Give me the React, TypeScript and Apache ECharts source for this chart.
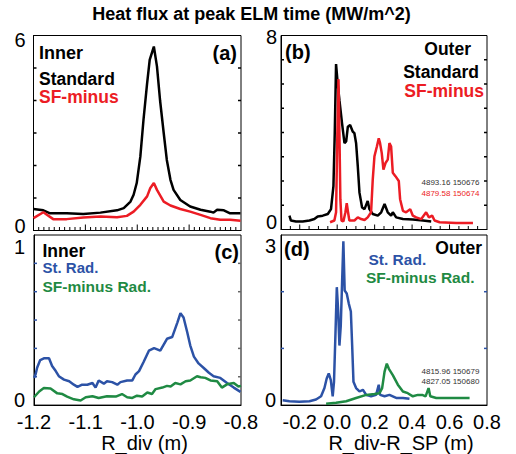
import React, { useEffect, useRef } from "react";
import * as echarts from "echarts";

// ---------- data ----------
const aStdX = [-1.2, -1.181, -1.168, -1.136, -1.104, -1.071, -1.039, -1.026, -1.013, -1.007, -1.001, -0.994, -0.988, -0.981, -0.976, -0.968, -0.962, -0.956, -0.949, -0.943, -0.936, -0.93, -0.917, -0.898, -0.878, -0.859, -0.853, -0.846, -0.833, -0.821, -0.801];
const aStdY = [0.66, 0.62, 0.53, 0.53, 0.51, 0.55, 0.62, 0.69, 0.89, 1.1, 1.46, 2.28, 3.4, 4.53, 5.25, 5.66, 5.05, 4.0, 3.0, 2.17, 1.56, 1.25, 0.94, 0.74, 0.64, 0.58, 0.55, 0.64, 0.62, 0.53, 0.53];
const aSfmX = [-1.2, -1.181, -1.162, -1.136, -1.104, -1.071, -1.039, -1.020, -1.007, -0.994, -0.981, -0.975, -0.968, -0.962, -0.949, -0.936, -0.917, -0.898, -0.878, -0.859, -0.840, -0.821, -0.801];
const aSfmY = [0.38, 0.56, 0.35, 0.35, 0.4, 0.43, 0.41, 0.45, 0.58, 0.79, 1.05, 1.3, 1.46, 1.25, 0.89, 0.77, 0.66, 0.58, 0.48, 0.38, 0.33, 0.33, 0.3];

const bStdX = [-0.255, -0.247, -0.22, -0.184, -0.148, -0.122, -0.104, -0.077, -0.05, -0.033, -0.02, -0.013, -0.006, 0.003, 0.012, 0.026, 0.039, 0.048, 0.057, 0.069, 0.083, 0.092, 0.101, 0.11, 0.119, 0.133, 0.146, 0.163, 0.172, 0.19, 0.217, 0.235, 0.253, 0.27, 0.288, 0.297, 0.315, 0.351, 0.404, 0.458, 0.502];
const bStdY = [0.57, 0.37, 0.33, 0.33, 0.37, 0.43, 0.54, 0.57, 0.64, 0.84, 1.79, 3.97, 6.82, 6.0, 5.33, 4.38, 3.56, 3.63, 4.24, 4.31, 4.04, 3.97, 3.56, 2.61, 1.52, 0.91, 0.84, 1.18, 0.84, 0.64, 0.57, 0.71, 1.05, 0.71, 0.57, 0.71, 0.5, 0.43, 0.41, 0.37, 0.33];
const bSfmX = [-0.038, -0.015, -0.006, 0.001, 0.007, 0.012, 0.017, 0.023, 0.033, 0.044, 0.051, 0.058, 0.065, 0.092, 0.11, 0.128, 0.146, 0.163, 0.181, 0.19, 0.199, 0.212, 0.222, 0.229, 0.238, 0.247, 0.258, 0.27, 0.279, 0.288, 0.297, 0.311, 0.329, 0.336, 0.351, 0.368, 0.39, 0.404, 0.422, 0.449, 0.475, 0.49, 0.507, 0.52, 0.547, 0.636, 0.725];
const bSfmY = [0.3, 0.37, 0.71, 3.97, 6.2, 3.97, 1.25, 0.37, 0.33, 0.71, 1.09, 0.71, 0.37, 0.37, 0.5, 0.43, 0.39, 0.5, 0.71, 2.07, 3.02, 3.42, 3.76, 3.56, 3.15, 2.47, 2.74, 2.88, 3.56, 3.42, 2.34, 2.2, 2.0, 1.25, 0.77, 0.71, 0.84, 0.57, 0.5, 0.43, 0.71, 0.5, 0.57, 0.37, 0.3, 0.27, 0.27];

const cStX = [-1.2, -1.197, -1.194, -1.188, -1.181, -1.171, -1.165, -1.158, -1.152, -1.142, -1.132, -1.123, -1.116, -1.107, -1.097, -1.087, -1.081, -1.075, -1.065, -1.059, -1.049, -1.039, -1.033, -1.02, -1.01, -1.004, -0.997, -0.988, -0.978, -0.968, -0.956, -0.943, -0.933, -0.923, -0.917, -0.911, -0.904, -0.898, -0.891, -0.882, -0.872, -0.862, -0.853, -0.84, -0.827, -0.814, -0.801];
const cStY = [0.16, 0.18, 0.22, 0.265, 0.275, 0.275, 0.23, 0.2, 0.17, 0.15, 0.14, 0.12, 0.107, 0.12, 0.12, 0.13, 0.103, 0.145, 0.126, 0.14, 0.135, 0.12, 0.135, 0.145, 0.145, 0.18, 0.2, 0.255, 0.32, 0.335, 0.32, 0.39, 0.4, 0.485, 0.54, 0.515, 0.43, 0.35, 0.285, 0.245, 0.218, 0.19, 0.17, 0.16, 0.13, 0.103, 0.078];
const cSfX = [-1.2, -1.19, -1.181, -1.168, -1.155, -1.145, -1.136, -1.123, -1.11, -1.1, -1.087, -1.075, -1.059, -1.042, -1.03, -1.02, -1.01, -1.001, -0.991, -0.981, -0.972, -0.965, -0.952, -0.943, -0.936, -0.927, -0.917, -0.907, -0.898, -0.885, -0.878, -0.869, -0.859, -0.846, -0.837, -0.827, -0.814, -0.805, -0.8];
const cSfY = [0.046, 0.08, 0.1, 0.097, 0.069, 0.065, 0.05, 0.034, 0.027, 0.046, 0.052, 0.042, 0.052, 0.05, 0.065, 0.046, 0.042, 0.055, 0.05, 0.074, 0.065, 0.094, 0.103, 0.113, 0.109, 0.13, 0.122, 0.14, 0.145, 0.17, 0.164, 0.16, 0.145, 0.14, 0.103, 0.122, 0.13, 0.109, 0.113];

const dStX = [-0.291, -0.255, -0.202, -0.148, -0.113, -0.086, -0.068, -0.056, -0.045, -0.034, -0.024, -0.017, -0.009, -0.002, 0.005, 0.012, 0.019, 0.026, 0.033, 0.04, 0.051, 0.062, 0.073, 0.08, 0.087, 0.101, 0.119, 0.137, 0.155, 0.181, 0.208, 0.222, 0.229, 0.253, 0.279, 0.315, 0.351, 0.386];
const dStY = [0.086, 0.069, 0.057, 0.069, 0.098, 0.155, 0.3, 0.47, 0.56, 0.44, 0.155, 0.41, 1.28, 2.08, 1.68, 1.05, 1.39, 2.14, 2.89, 2.02, 1.97, 1.79, 1.65, 1.05, 0.41, 0.3, 0.24, 0.27, 0.18, 0.155, 0.18, 0.36, 0.18, 0.155, 0.18, 0.126, 0.126, 0.11];
const dSfX = [-0.059, -0.006, 0.048, 0.101, 0.155, 0.199, 0.226, 0.24, 0.253, 0.265, 0.276, 0.297, 0.324, 0.351, 0.377, 0.404, 0.431, 0.454, 0.472, 0.488, 0.497, 0.529, 0.582, 0.636, 0.707];
const dSfY = [0.023, 0.04, 0.069, 0.126, 0.18, 0.195, 0.21, 0.3, 0.59, 0.73, 0.64, 0.53, 0.36, 0.24, 0.21, 0.155, 0.18, 0.18, 0.155, 0.3, 0.155, 0.126, 0.126, 0.126, 0.126];

// axis ranges / ticks
const innerXRange = [-1.2, -0.8];
const outerXRange = [-0.3, 0.8];
const yMaxA = 6, yMaxB = 8, yMaxC = 1, yMaxD = 3;
const yTicksA = [1, 2, 3, 4, 5];
const yTicksB = [1, 2, 3, 4, 5, 6, 7];
const yTicksC = [1 / 6, 2 / 6, 3 / 6, 4 / 6, 5 / 6];
const yTicksD = [1, 2];

const BLACK = "#000000";
const RED = "#ec1c24";
const BLUE = "#2c52a6";
const GREEN = "#1f8a43";
const FONT = "'Liberation Sans', Arial, Helvetica, sans-serif";

const pairs = (xs: number[], ys: number[]) => xs.map((x, i) => [x, ys[i]]);

const stepsBetween = (lo: number, hi: number, step: number) => {
  const out: number[] = [];
  const n = Math.round((hi - lo) / step);
  for (let i = 1; i < n; i++) out.push(lo + i * step);
  return out;
};

export default function App() {
  const ref = useRef<HTMLDivElement>(null);
  useEffect(() => {
    document.body.style.margin = "0";
    const chart = echarts.init(ref.current!, null, { renderer: "svg" });

    const grids = [
      { left: 33.5, top: 35.5, width: 207.5, height: 195 },
      { left: 281, top: 35.5, width: 206, height: 194 },
      { left: 34, top: 235, width: 207, height: 174 },
      { left: 281, top: 235, width: 206, height: 174 },
    ].map((g) => ({ ...g, show: true, borderColor: "#000", borderWidth: 1 }));

    const mkLine = () => ({ show: true, onZero: false, lineStyle: { color: "#000", width: 1 } });

    const shiftRich = (txt: string, shift: number) => `{${shift >= 0 ? "d" : "u"}${Math.round(Math.abs(shift))}|${txt}}`;
    const richFor = (shifts: number[]) => {
      const r: any = {};
      shifts.forEach((s) => {
        const k = Math.round(Math.abs(s));
        r[(s >= 0 ? "d" : "u") + k] = {
          fontSize: 20,
          fontFamily: FONT,
          color: "#000",
          padding: s >= 0 ? [2 * k, 0, 0, 0] : [0, 0, 2 * k, 0],
        };
      });
      return r;
    };

    const yLeft = (gi: number, max: number, topShift: number, botShift: number, margin: number) => ({
      type: "value",
      gridIndex: gi,
      min: 0,
      max,
      interval: max,
      axisLine: mkLine(),
      splitLine: { show: false },
      axisTick: { show: false },
      axisLabel: {
        show: true,
        margin,
        showMinLabel: true,
        showMaxLabel: true,
        formatter: (v: number) => {
          if (Math.abs(v) < 1e-9) return shiftRich("0", botShift);
          if (Math.abs(v - max) < 1e-9) return shiftRich(String(max), topShift);
          return "";
        },
        rich: richFor([topShift, botShift]),
      },
    });

    const xBase = (gi: number, range: number[]) => ({
      type: "value", gridIndex: gi, min: range[0], max: range[1], interval: 0.1,
      axisLine: mkLine(), splitLine: { show: false }, axisTick: { show: false },
    });

    const option: any = {
      animation: false,
      grid: grids,
      xAxis: [
        { ...xBase(0, innerXRange), axisLabel: { show: false } },
        { ...xBase(1, outerXRange), axisLabel: { show: false } },
        {
          ...xBase(2, innerXRange),
          axisLabel: {
            show: true, interval: 0, margin: 7, fontSize: 20, color: "#000", fontFamily: FONT,
            showMinLabel: true, showMaxLabel: true,
            formatter: (v: number) => v.toFixed(1),
          },
          name: "R_div (m)", nameLocation: "middle", nameGap: 25,
          nameTextStyle: { fontSize: 20, color: "#000", fontFamily: FONT, padding: [0, 0, 0, 14] },
        },
        {
          ...xBase(3, outerXRange),
          axisLabel: {
            show: true, interval: 0, margin: 7, fontSize: 20, color: "#000", fontFamily: FONT,
            showMinLabel: true, showMaxLabel: true,
            formatter: (v: number) => {
              const k = Math.round(v * 10);
              if (k % 2 !== 0) return "";
              return (k / 10).toFixed(1);
            },
          },
          name: "R_div-R_SP (m)", nameLocation: "middle", nameGap: 25,
          nameTextStyle: { fontSize: 20, color: "#000", fontFamily: FONT, padding: [0, 0, 0, 34] },
        },
      ],
      yAxis: [
        yLeft(0, yMaxA, 4, -4.5, 8),
        yLeft(1, yMaxB, 1, -8, 4),
        yLeft(2, yMaxC, 12, -5, 9),
        yLeft(3, yMaxD, 11, -5, 5),
      ],
      series: [
        { name: "Standard", data: pairs(aStdX, aStdY), xAxisIndex: 0, yAxisIndex: 0, color: BLACK },
        { name: "SF-minus", data: pairs(aSfmX, aSfmY), xAxisIndex: 0, yAxisIndex: 0, color: RED },
        { name: "Standard outer", data: pairs(bStdX, bStdY), xAxisIndex: 1, yAxisIndex: 1, color: BLACK },
        { name: "SF-minus outer", data: pairs(bSfmX, bSfmY), xAxisIndex: 1, yAxisIndex: 1, color: RED },
        { name: "St. Rad.", data: pairs(cStX, cStY), xAxisIndex: 2, yAxisIndex: 2, color: BLUE },
        { name: "SF-minus Rad.", data: pairs(cSfX, cSfY), xAxisIndex: 2, yAxisIndex: 2, color: GREEN },
        { name: "St. Rad. outer", data: pairs(dStX, dStY), xAxisIndex: 3, yAxisIndex: 3, color: BLUE },
        { name: "SF-minus Rad. outer", data: pairs(dSfX, dSfY), xAxisIndex: 3, yAxisIndex: 3, color: GREEN },
      ].map((s) => ({
        type: "line",
        showSymbol: false,
        symbol: "none",
        lineStyle: { width: 2.5, color: s.color },
        itemStyle: { color: s.color },
        ...s,
      })),
    };

    const t = (text: string, x: number, y: number, opts: any = {}) => ({
      type: "text",
      z: 10,
      style: {
        text,
        x,
        y,
        fill: opts.fill || "#000",
        font: `${opts.weight || "bold"} ${opts.size || 17.5}px ${FONT}`,
        textAlign: opts.align || "left",
        textVerticalAlign: "middle",
        align: opts.align || "left",
        verticalAlign: "middle",
      },
    });

    const texts = [
      t("Heat flux at peak ELM time (MW/m^2)", 251.5, 14, { align: "center", size: 18 }),
      // (a)
      t("Inner", 39, 53, { size: 18 }),
      t("(a)", 237, 53, { align: "right", size: 20 }),
      t("Standard", 39, 78.5),
      t("SF-minus", 39, 97, { fill: RED }),
      // (b)
      t("(b)", 285, 52, { size: 20 }),
      t("Outer", 471, 48.5, { align: "right" }),
      t("Standard", 479, 71.5, { align: "right" }),
      t("SF-minus", 484, 90.5, { align: "right", fill: RED }),
      t("4893.16 150676", 421.5, 182.5, { weight: "normal", size: 8, fill: "#333" }),
      t("4879.58 150674", 421.5, 193, { weight: "normal", size: 8, fill: RED }),
      // (c)
      t("Inner", 42.5, 250.5),
      t("(c)", 239, 251.5, { align: "right", size: 20 }),
      t("St. Rad.", 42.5, 267.5, { fill: BLUE, size: 15 }),
      t("SF-minus Rad.", 42.5, 286, { fill: GREEN, size: 15.5 }),
      // (d)
      t("(d)", 284, 249, { size: 20 }),
      t("Outer", 482, 247.5, { align: "right" }),
      t("St. Rad.", 368.5, 259.5, { fill: BLUE, size: 15.5 }),
      t("SF-minus Rad.", 366, 277.5, { fill: GREEN, size: 15.5 }),
      t("4815.96 150679", 421.5, 371, { weight: "normal", size: 8, fill: "#333" }),
      t("4827.05 150680", 421.5, 381, { weight: "normal", size: 8, fill: "#333" }),
    ];

    chart.setOption(option);

    // ticks placed through the chart's own axis scales
    const ticks: any[] = [];
    const px = (gi: number, x: number, y: number): number[] => {
      const p = chart.convertToPixel({ gridIndex: gi } as any, [x, y]) as any;
      return Array.isArray(p) ? p : [NaN, NaN];
    };
    const seg = (x1: number, y1: number, x2: number, y2: number, color: string, w: number) => {
      if ([x1, y1, x2, y2].some((v) => !isFinite(v))) return;
      ticks.push({ type: "line", z: 9, silent: true, shape: { x1, y1, x2, y2 }, style: { stroke: color, lineWidth: w } });
    };
    const xTicks = (gi: number, range: number[], step: number, majorEvery: number, majLen: number, minLen: number) => {
      stepsBetween(range[0], range[1], step).forEach((v) => {
        const isMajor = Math.abs(v / majorEvery - Math.round(v / majorEvery)) < 1e-6;
        const p = px(gi, v, 0);
        seg(p[0], p[1], p[0], p[1] - (isMajor ? majLen : minLen), "#000", 1);
      });
    };
    const yTicks = (gi: number, range: number[], vals: number[], lc: string, rc: string) => {
      vals.forEach((v) => {
        const l = px(gi, range[0], v);
        const r = px(gi, range[1], v);
        seg(l[0], l[1], l[0] + 3, l[1], lc, 1.5);
        seg(r[0], r[1], r[0] - 3, r[1], rc, 1.5);
      });
    };
    try {
      xTicks(0, innerXRange, 0.01, 0.1, 6, 3.5);
      xTicks(1, outerXRange, 0.05, 0.2, 5, 3.5);
      yTicks(0, innerXRange, yTicksA, "#000", "#000");
      yTicks(1, outerXRange, yTicksB, "#000", "#000");
      yTicks(2, innerXRange, yTicksC, BLUE, "#666");
      yTicks(3, outerXRange, yTicksD, BLUE, BLUE);
    } catch (e) {
      // keep chart even if tick placement fails
    }

    chart.setOption({ graphic: [...texts, ...ticks] });
    return () => chart.dispose();
  }, []);
  return <div ref={ref} style={{ width: 516, height: 454 }} />;
}
